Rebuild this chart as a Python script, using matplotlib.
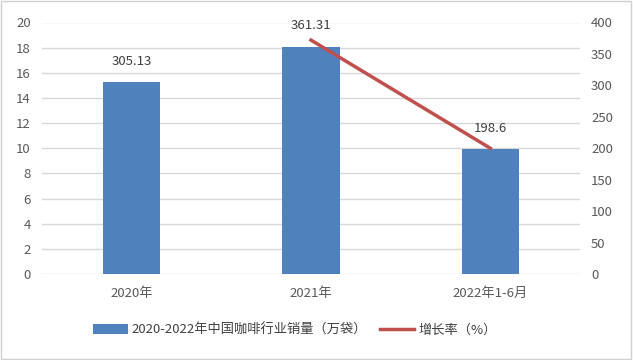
import matplotlib.pyplot as plt
import numpy as np

plt.rcParams['font.family'] = ['Noto Sans CJK SC', 'DejaVu Sans']

categories = ['2020年', '2021年', '2022年1-6月']
sales = [305.13, 361.31, 198.6]          # 万袋
growth = [np.nan, 372, 200]              # line as drawn on right axis
left_ticks = list(range(0, 21, 2))
right_ticks = list(range(0, 401, 50))

bar_color = '#4F81BD'
line_color = '#C0504D'
text_color = '#595959'
grid_color = '#D9D9D9'

fig = plt.figure(figsize=(6.33, 3.6), dpi=100)
ax = fig.add_axes([42/633, 1 - 274/360, (580 - 42)/633, (274 - 22.5)/360])
ax2 = ax.twinx()

x = np.arange(len(categories))
ax.set_ylim(0, 20)
ax.set_yticks(left_ticks)
ax2.set_ylim(0, 400)
ax2.set_yticks(right_ticks)
ax.set_xlim(-0.5, len(categories) - 0.5)

ax.yaxis.grid(True, color=grid_color, linewidth=1)
ax.set_axisbelow(True)

bars = ax2.bar(x, sales, width=0.32, color=bar_color, zorder=2,
               label='2020-2022年中国咖啡行业销量（万袋）')
for xi, v in zip(x, sales):
    ax2.text(xi, v + 23, f'{v:g}', ha='center', va='bottom',
             fontsize=9.5, color='#404040')
line, = ax2.plot(x, growth, color=line_color, linewidth=2.5, zorder=3,
                 label='增长率（%）')

ax.set_xticks(x)
ax.set_xticklabels(categories)
for a in (ax, ax2):
    for s in a.spines.values():
        s.set_visible(False)
    a.tick_params(length=0, labelsize=9.5, colors=text_color)
ax.tick_params(axis='y', pad=8)
ax2.tick_params(axis='y', pad=8)
ax.tick_params(axis='x', pad=9)

fig.legend(handles=[bars, line], loc='center', bbox_to_anchor=(295/633, 1 - 330/360),
           ncol=2, frameon=False, fontsize=9.5, handlelength=2.6,
           handletextpad=0.3, columnspacing=1.0, labelcolor='#404040')

fig.patches.append(plt.Rectangle((0.002, 0.003), 0.995, 0.994, transform=fig.transFigure,
                                 fill=False, edgecolor='#D0D0D0', linewidth=1))

fig.savefig('out.png', dpi=100)
